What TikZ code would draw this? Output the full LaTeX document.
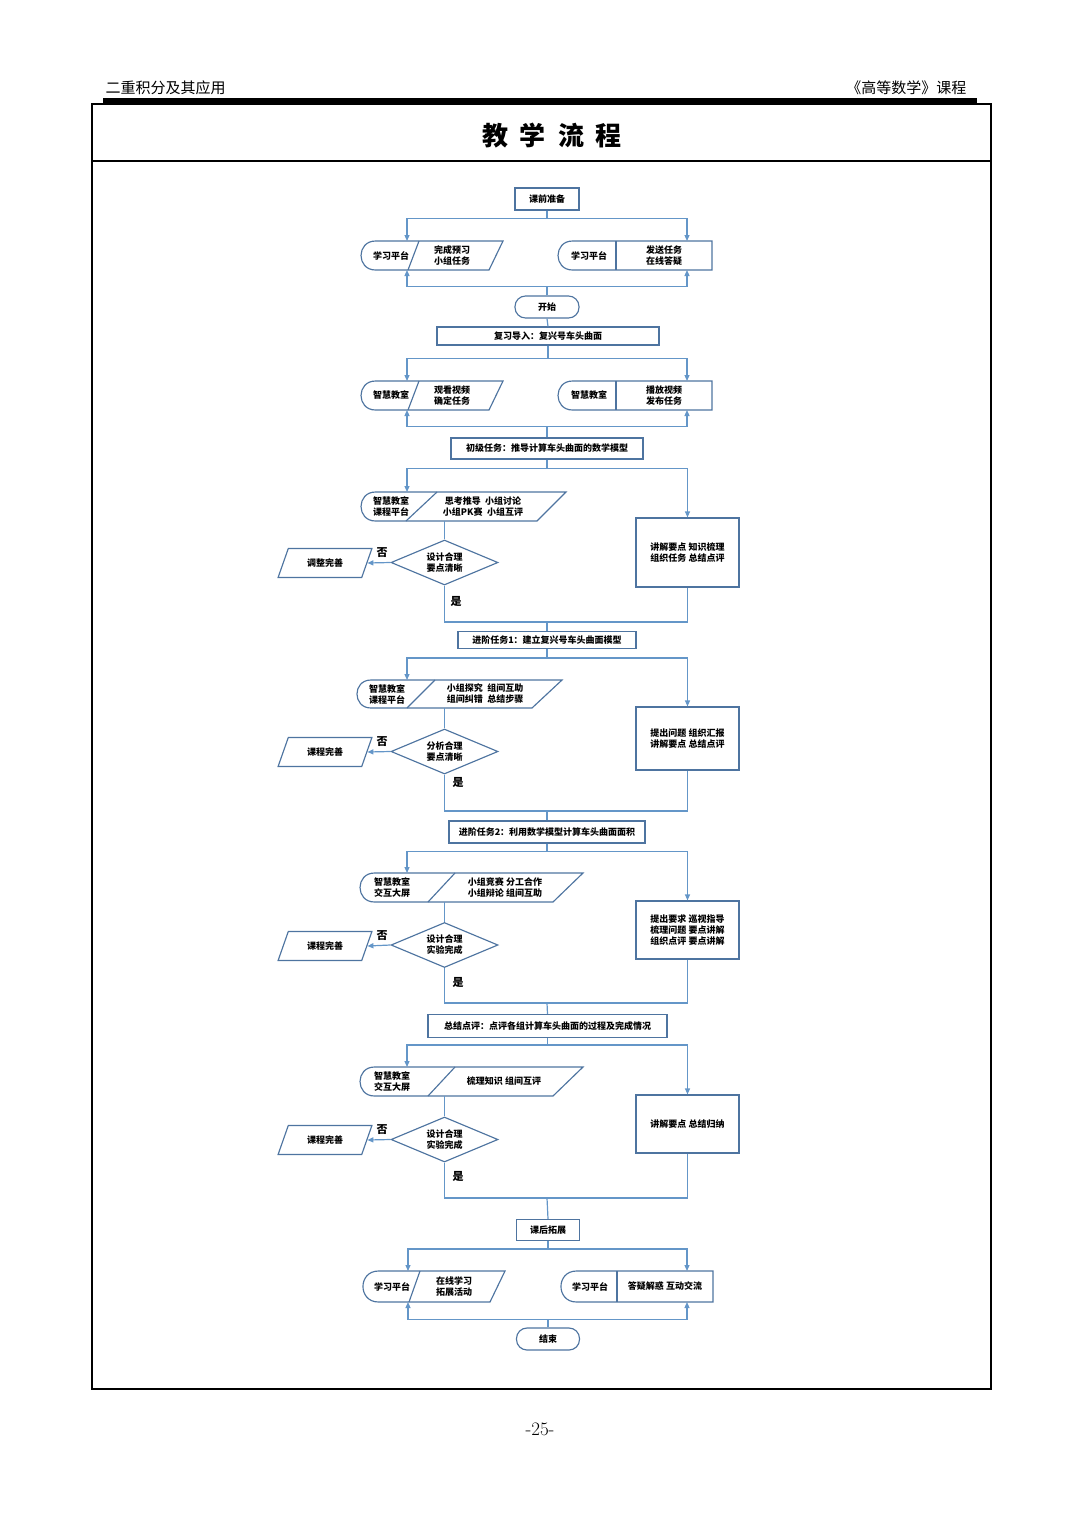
\documentclass[tikz,border=0pt]{standalone}
\usepackage{fontspec}
\newfontfamily\cjk{Noto Sans CJK SC}
\usepackage{tikz}
\usetikzlibrary{shapes,arrows.meta,positioning,calc}
\usepackage{xcolor}
\definecolor{boxline}{RGB}{78,116,160}
\definecolor{flowline}{RGB}{100,150,200}

\begin{document}
\begin{tikzpicture}[x=1pt,y=-1pt,
    txt/.style={font=\cjk\bfseries\fontsize{9}{11}\selectfont, align=center, inner sep=0pt},
    box/.style={draw=boxline, line width=1.15pt, fill=white, txt},
    term/.style={box, rounded corners=10.5pt, minimum width=64pt, minimum height=22pt},
    test/.style={box, diamond, aspect=2.4, minimum width=107pt, minimum height=45pt},
    fixbox/.style={box, trapezium, trapezium left angle=60, trapezium right angle=120,
        trapezium stretches=true, minimum width=94pt, minimum height=29pt},
    teach/.style={box, minimum width=103pt},
    outline/.style={draw=boxline, line width=1.15pt},
    flow/.style={draw=flowline, line width=1.2pt},
    arr/.style={flow, -{Triangle[length=6pt,width=5pt]}},
    yn/.style={font=\cjk\bfseries\fontsize{11}{11}\selectfont, inner sep=0pt}]
    \useasboundingbox (0,0) rectangle (1080,1527);

    % page head and frame
    \node[font=\cjk\fontsize{15}{15}\selectfont, anchor=west] (chapter) at (102,88) {二重积分及其应用};
    \node[font=\cjk\fontsize{15}{15}\selectfont, anchor=east] (course) at (970,88) {《高等数学》课程};
    \fill (103,98) rectangle (977,103);
    \draw[line width=1.6pt] (92,104) rectangle (991,1389);
    \draw[line width=1.6pt] (92,161) -- (991,161);
    \node[font=\cjk\bfseries\fontsize{26}{26}\selectfont] (title) at (552,136)
        {教\hspace{12pt}学\hspace{12pt}流\hspace{12pt}程};
    \node[font=\fontsize{19}{19}\selectfont] (page) at (540,1429) {-25-};

    % main column
    \node[box, minimum width=64pt, minimum height=22pt] (prep) at (547,199) {课前准备};
    \node[term] (start) at (547,307) {开始};
    \node[box, minimum width=222pt, minimum height=18pt] (review) at (548,336) {复习导入：复兴号车头曲面};
    \node[box, minimum width=192pt, minimum height=21pt] (basic) at (547,448.5) {初级任务：推导计算车头曲面的数学模型};
    \node[box, minimum width=178pt, minimum height=17pt] (adv1) at (547,640) {进阶任务1：建立复兴号车头曲面模型};
    \node[box, minimum width=196pt, minimum height=22pt] (adv2) at (547,832) {进阶任务2：利用数学模型计算车头曲面面积};
    \node[box, minimum width=239pt, minimum height=23pt] (summary) at (547.5,1026) {总结点评：点评各组计算车头曲面的过程及完成情况};
    \node[box, minimum width=63pt, minimum height=21pt] (ext) at (548,1230) {课后拓展};
    \node[term, minimum width=63pt] (finish) at (548,1339) {结束};

    % pre-class platform
    \draw[outline] (375.5,241) -- (503,241) -- (489,270) -- (375.5,270) .. controls (356.2,270) and (356.2,241) .. cycle;
    \draw[outline] (419,241) -- (408,270);
    \node[txt] (s1a) at (391,255.5) {学习平台};
    \node[txt] (s1b) at (452,255.5) {完成预习\\小组任务};
    \draw[outline] (572.5,241) -- (712,241) -- (712,270) -- (572.5,270) .. controls (553.2,270) and (553.2,241) .. cycle;
    \draw[outline] (616,241) -- (616,270);
    \node[txt] (r1a) at (589,255.5) {学习平台};
    \node[txt] (r1b) at (664,255.5) {发送任务\\在线答疑};
    \coordinate (s1t) at (407,241);
    \coordinate (s1d) at (407,270);
    \coordinate (r1t) at (687,241);
    \coordinate (r1d) at (687,270);

    % review, video
    \draw[outline] (375.5,381) -- (503,381) -- (489,410) -- (375.5,410) .. controls (356.2,410) and (356.2,381) .. cycle;
    \draw[outline] (419,381) -- (408,410);
    \node[txt] (s2a) at (391,395.5) {智慧教室};
    \node[txt] (s2b) at (452,395.5) {观看视频\\确定任务};
    \draw[outline] (572.5,381) -- (712,381) -- (712,410) -- (572.5,410) .. controls (553.2,410) and (553.2,381) .. cycle;
    \draw[outline] (616,381) -- (616,410);
    \node[txt] (r2a) at (589,395.5) {智慧教室};
    \node[txt] (r2b) at (664,395.5) {播放视频\\发布任务};
    \coordinate (s2t) at (407,381);
    \coordinate (s2d) at (407,410);
    \coordinate (r2t) at (687,381);
    \coordinate (r2d) at (687,410);

    % basic task
    \draw[outline] (375.5,492) -- (566,492) -- (537,521) -- (375.5,521) .. controls (356.2,521) and (356.2,492) .. cycle;
    \draw[outline] (437,492) -- (406,521);
    \node[txt] (s3a) at (391,506.5) {智慧教室\\课程平台};
    \node[txt] (s3b) at (483,506.5) {思考推导\enspace 小组讨论\\小组PK赛\enspace 小组互评};
    \coordinate (s3t) at (407,492);
    \coordinate (s3d) at (444.5,521);
    \node[test] (check1) at (444.5,562.5) {设计合理\\要点清晰};
    \node[fixbox] (fix1) at (325,563) {调整完善};
    \node[teach, minimum height=69pt] (teach1) at (687.5,552.5) {讲解要点 知识梳理\\组织任务 总结点评};
    \node[yn] (no1) at (382,553) {否};
    \node[yn] (yes1) at (456,601) {是};
    \coordinate (join1) at (547,622);

    % advanced task 1
    \draw[outline] (371,680) -- (562,680) -- (532,708) -- (371,708) .. controls (352.3,708) and (352.3,680) .. cycle;
    \draw[outline] (435,680) -- (407,708);
    \node[txt] (s4a) at (387,694) {智慧教室\\课程平台};
    \node[txt] (s4b) at (485,694) {小组探究\enspace 组间互助\\组间纠错\enspace 总结步骤};
    \coordinate (s4t) at (407,680);
    \coordinate (s4d) at (444.5,708);
    \node[test] (check2) at (444.5,751.5) {分析合理\\要点清晰};
    \node[fixbox] (fix2) at (325,752) {课程完善};
    \node[teach, minimum height=63pt] (teach2) at (687.5,738.5) {提出问题 组织汇报\\讲解要点 总结点评};
    \node[yn] (no2) at (382,742) {否};
    \node[yn] (yes2) at (458,782) {是};
    \coordinate (join2) at (547,811);

    % advanced task 2
    \draw[outline] (374.5,873) -- (583,873) -- (553,902) -- (374.5,902) .. controls (355.2,902) and (355.2,873) .. cycle;
    \draw[outline] (455,873) -- (428,902);
    \node[txt] (s5a) at (392,887.5) {智慧教室\\交互大屏};
    \node[txt] (s5b) at (505,887.5) {小组竞赛 分工合作\\小组辩论 组间互助};
    \coordinate (s5t) at (407,873);
    \coordinate (s5d) at (444.5,902);
    \node[test] (check3) at (444.5,945) {设计合理\\实验完成};
    \node[fixbox] (fix3) at (325,946) {课程完善};
    \node[teach, minimum height=58pt] (teach3) at (687.5,930) {提出要求 巡视指导\\梳理问题 要点讲解\\组织点评 要点讲解};
    \node[yn] (no3) at (382,936) {否};
    \node[yn] (yes3) at (458,982) {是};
    \coordinate (join3) at (547,1003);

    % summary
    \draw[outline] (374.5,1067) -- (583,1067) -- (553,1096) -- (374.5,1096) .. controls (355.2,1096) and (355.2,1067) .. cycle;
    \draw[outline] (455,1067) -- (428,1096);
    \node[txt] (s6a) at (392,1081.5) {智慧教室\\交互大屏};
    \node[txt] (s6b) at (504,1081.5) {梳理知识 组间互评};
    \coordinate (s6t) at (407,1067);
    \coordinate (s6d) at (444.5,1096);
    \node[test] (check4) at (444.5,1139.5) {设计合理\\实验完成};
    \node[fixbox] (fix4) at (325,1140) {课程完善};
    \node[teach, minimum height=58pt] (teach4) at (687.5,1124) {讲解要点 总结归纳};
    \node[yn] (no4) at (382,1130) {否};
    \node[yn] (yes4) at (458,1176) {是};
    \coordinate (join4) at (547,1198);

    % after class
    \draw[outline] (378.5,1271) -- (505,1271) -- (490,1302) -- (378.5,1302) .. controls (357.8,1302) and (357.8,1271) .. cycle;
    \draw[outline] (420,1271) -- (409,1302);
    \node[txt] (s7a) at (392,1286.5) {学习平台};
    \node[txt] (s7b) at (454,1286.5) {在线学习\\拓展活动};
    \draw[outline] (576.5,1271) -- (713,1271) -- (713,1302) -- (576.5,1302) .. controls (555.8,1302) and (555.8,1271) .. cycle;
    \draw[outline] (617,1271) -- (617,1302);
    \node[txt] (r7a) at (590,1286.5) {学习平台};
    \node[txt] (r7b) at (665,1286.5) {答疑解惑 互动交流};
    \coordinate (s7t) at (408,1271);
    \coordinate (s7d) at (408,1302);
    \coordinate (r7t) at (687,1271);
    \coordinate (r7d) at (687,1302);

    % connectors
    \draw[arr] (prep.south) -- ++(0,8) -| (s1t);
    \draw[arr] (prep.south) -- ++(0,8) -| (r1t);
    \draw[arr] (start.north) -- ++(0,-9) -| (s1d);
    \draw[arr] (start.north) -- ++(0,-9) -| (r1d);
    \draw[flow] (start.south) -- (review.north);
    \draw[arr] (review.south) -- ++(0,13) -| (s2t);
    \draw[arr] (review.south) -- ++(0,13) -| (r2t);
    \draw[arr] (basic.north) -- ++(0,-11) -| (s2d);
    \draw[arr] (basic.north) -- ++(0,-11) -| (r2d);

    \draw[arr] (basic.south) -- ++(0,9) -| (s3t);
    \draw[arr] (basic.south) -- ++(0,9) -| (teach1.north);
    \draw[flow] (s3d) -- (check1.north);
    \draw[arr] (check1.west) -- (fix1.east);
    \draw[flow] (check1.south) |- (join1) -| (teach1.south);
    \draw[flow] (join1) -- (adv1.north);

    \draw[arr] (adv1.south) -- ++(0,9) -| (s4t);
    \draw[arr] (adv1.south) -- ++(0,9) -| (teach2.north);
    \draw[flow] (s4d) -- (check2.north);
    \draw[arr] (check2.west) -- (fix2.east);
    \draw[flow] (check2.south) |- (join2) -| (teach2.south);
    \draw[flow] (join2) -- (adv2.north);

    \draw[arr] (adv2.south) -- ++(0,8) -| (s5t);
    \draw[arr] (adv2.south) -- ++(0,8) -| (teach3.north);
    \draw[flow] (s5d) -- (check3.north);
    \draw[arr] (check3.west) -- (fix3.east);
    \draw[flow] (check3.south) |- (join3) -| (teach3.south);
    \draw[flow] (join3) -- (summary.north);

    \draw[arr] (summary.south) -- ++(0,7) -| (s6t);
    \draw[arr] (summary.south) -- ++(0,7) -| (teach4.north);
    \draw[flow] (s6d) -- (check4.north);
    \draw[arr] (check4.west) -- (fix4.east);
    \draw[flow] (check4.south) |- (join4) -| (teach4.south);
    \draw[flow] (join4) -- (ext.north);

    \draw[arr] (ext.south) -- ++(0,8) -| (s7t);
    \draw[arr] (ext.south) -- ++(0,8) -| (r7t);
    \draw[arr] (finish.north) -- ++(0,-8) -| (s7d);
    \draw[arr] (finish.north) -- ++(0,-8) -| (r7d);
\end{tikzpicture}
\end{document}
